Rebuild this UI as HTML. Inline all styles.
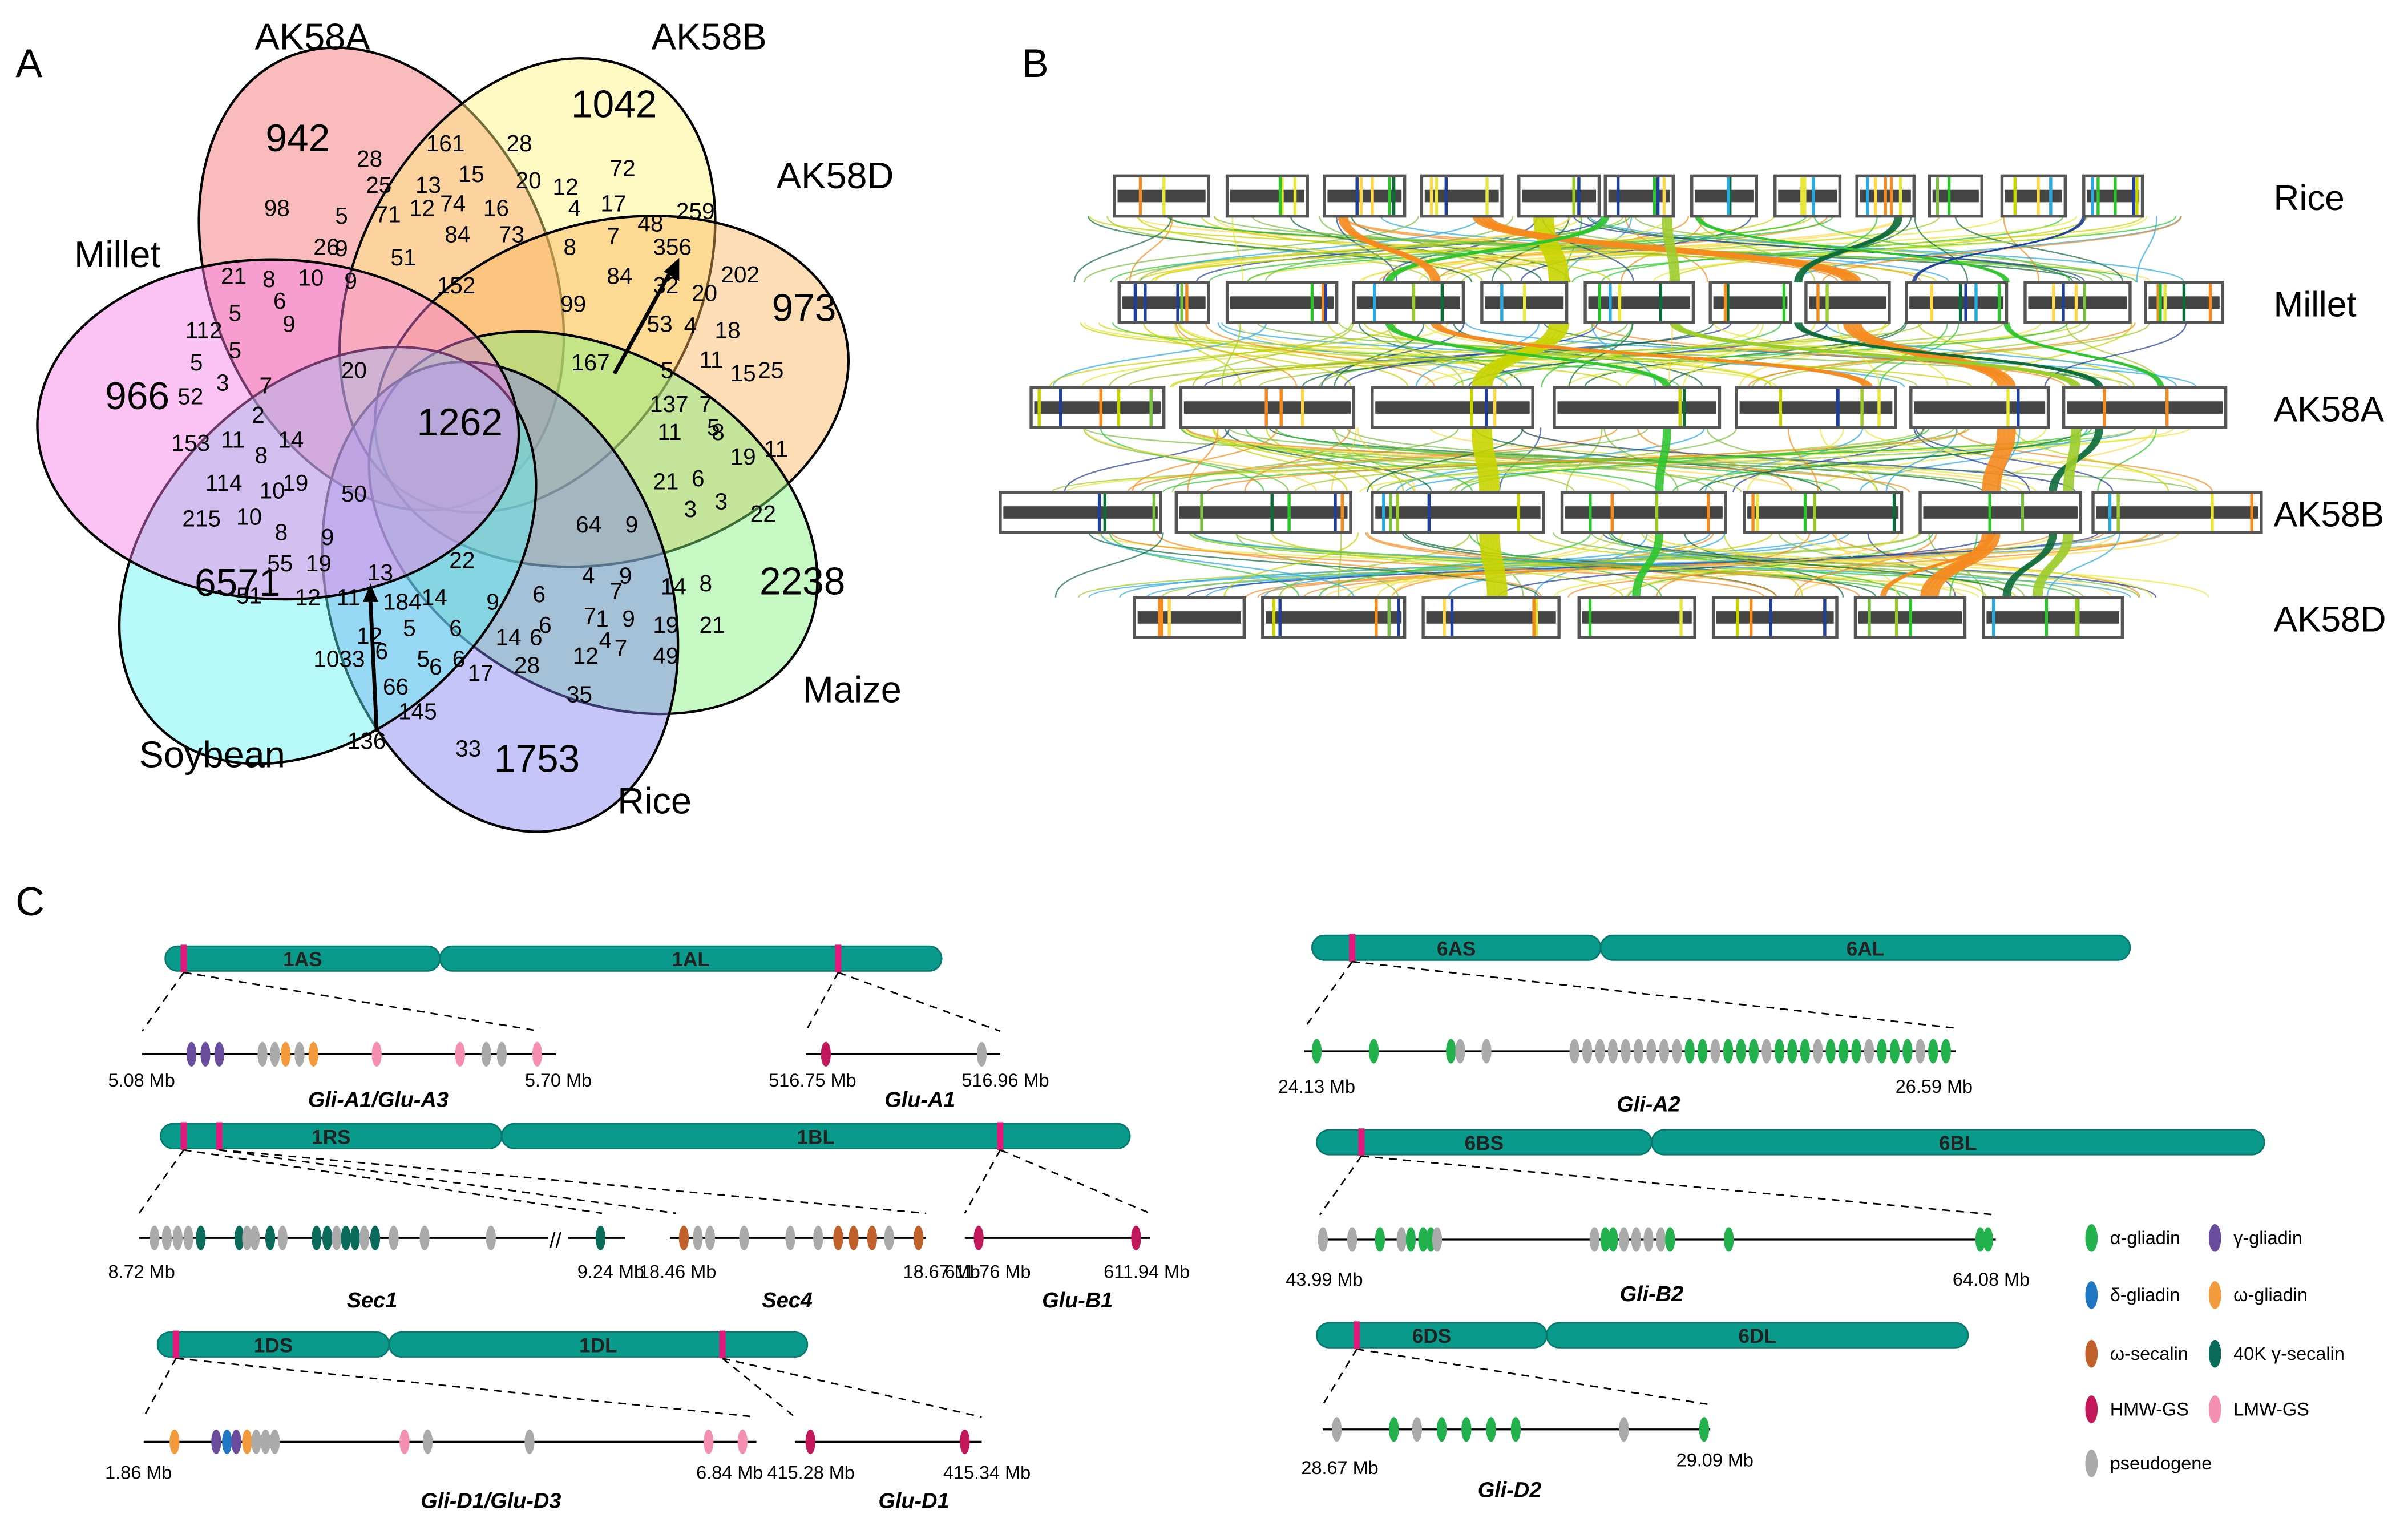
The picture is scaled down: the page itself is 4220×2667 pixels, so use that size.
<!DOCTYPE html>
<html><head><meta charset="utf-8"><style>
html,body{margin:0;padding:0;background:#fff}
svg{display:block}
text{font-family:"Liberation Sans",Arial,sans-serif}
</style></head><body>
<svg id="s" width="4220" height="2667" viewBox="0 0 1560 986" xmlns="http://www.w3.org/2000/svg">
<rect width="1560" height="986" fill="#fff"/>
<g id="venn"></g>
<g id="b"></g>
<g id="c"></g>
<text x="10" y="50" font-size="26">A</text>
<text x="662" y="50" font-size="26">B</text>
<text x="10" y="593" font-size="26">C</text>
</svg>
<script>
const NS="http://www.w3.org/2000/svg";
function el(p,t,a,txt){const e=document.createElementNS(NS,t);for(const k in a)e.setAttribute(k,a[k]);if(txt!==undefined)e.textContent=txt;document.getElementById(p).appendChild(e);return e;}
const vx=290,vy=282;
const petals=[
 [-113,"#f4696b","AK58A",165,32],
 [-62,"#fff27a","AK58B",422,32],
 [-15,"#fbb45c","AK58D",503,122],
 [31,"#7ef07a","Maize",520,455],
 [72,"#7f7ff2","Rice",400,527],
 [135,"#5ff0f0","Soybean",90,497],
 [182,"#f67ae6","Millet",48,173]
];
petals.forEach(p=>{const a=p[0]*Math.PI/180,d=110;const x=vx+d*Math.cos(a),y=vy+d*Math.sin(a);
 el("venn","ellipse",{cx:x,cy:y,rx:156,ry:110,transform:`rotate(${p[0]} ${x} ${y})`,fill:p[1],"fill-opacity":0.45,stroke:"#000","stroke-width":1.6});});
petals.forEach(p=>el("venn","text",{x:p[3],y:p[4],"font-size":24},p[2]));
const big=[[172,98,942],[370,76,1042],[500,208,973],[492,385,2238],[320,500,1753],[126,386,6571],[68,265,966],[270,282,1262]];
big.forEach(b=>el("venn","text",{x:b[0],y:b[1],"font-size":25},b[2]));
const sm=[[238,108,28],[283,98,161],[335,98,28],[402,114,72],[244,125,25],[276,125,13],[304,118,15],[341,122,20],[365,126,12],[396,137,17],[420,150,48],[445,142,259],[178,140,98],[224,145,5],[250,144,71],[272,140,12],[292,137,74],[320,140,16],[375,140,4],[400,158,7],[430,165,356],[210,165,26],[224,166,9],[260,172,51],[295,157,84],[330,157,73],[372,165,8],[400,184,84],[430,190,32],[455,195,20],[474,183,202],[150,184,21],[177,186,8],[200,185,10],[230,187,9],[290,190,152],[370,202,99],[426,215,53],[450,216,4],[470,219,18],[127,219,112],[190,215,9],[155,208,5],[184,200,6],[228,245,20],[377,240,167],[460,238,11],[480,247,15],[498,245,25],[130,240,5],[155,232,5],[175,255,7],[122,262,52],[147,253,3],[435,245,5],[460,267,7],[170,274,2],[428,267,137],[118,292,153],[150,290,11],[172,300,8],[187,290,14],[433,285,11],[465,282,5],[140,318,114],[175,323,10],[190,318,19],[228,325,50],[430,317,21],[455,315,6],[468,285,8],[480,301,19],[502,296,11],[125,341,215],[160,340,10],[185,350,8],[380,345,64],[412,345,9],[450,335,3],[470,330,3],[493,338,22],[180,370,55],[205,370,19],[215,353,9],[245,376,13],[298,368,22],[408,378,9],[435,385,14],[460,383,8],[160,391,51],[198,392,12],[225,392,11],[255,395,184],[280,392,14],[352,390,6],[384,378,4],[393,406,1],[410,406,9],[430,410,19],[238,417,12],[268,412,5],[298,412,6],[322,395,9],[356,410,6],[385,404,7],[402,388,7],[460,410,21],[210,432,1033],[250,427,6],[277,432,5],[300,432,6],[328,418,14],[350,418,6],[378,430,12],[395,420,4],[405,425,7],[430,430,49],[255,450,66],[265,466,145],[285,437,6],[310,441,17],[340,436,28],[374,455,35],[302,490,33],[232,485,136]];
sm.forEach(b=>el("venn","text",{x:b[0]-7,y:b[1],"font-size":15},b[2]));
el("venn","path",{d:"M244 474 L240 390",stroke:"#000","stroke-width":2.5,fill:"none"});
el("venn","path",{d:"M235 390 L240 378 L245 390Z",fill:"#000"});
el("venn","path",{d:"M398 242 L435 175",stroke:"#000","stroke-width":2.5,fill:"none"});
el("venn","path",{d:"M430 176 L440 167 L440 182Z",fill:"#000"});
function rnd(s){return function(){s=(s*9301+49297)%233280;return s/233280;};}
const r=rnd(7);
const rows=[[127,"Rice",[[722,783],[795,847],[858,910],[921,973],[984,1036],[1040,1084],[1096,1138],[1150,1192],[1203,1240],[1250,1284],[1297,1338],[1350,1388]]],
[196,"Millet",[[725,783],[795,866],[877,948],[960,1015],[1027,1097],[1108,1160],[1170,1224],[1235,1300],[1312,1380],[1390,1440]]],
[264,"AK58A",[[668,754],[765,877],[889,993],[1007,1114],[1125,1228],[1238,1327],[1337,1442]]],
[332,"AK58B",[[648,752],[762,875],[889,1000],[1012,1118],[1130,1232],[1244,1348],[1356,1465]]],
[400,"AK58D",[[735,806],[818,910],[922,1010],[1023,1098],[1110,1190],[1202,1273],[1285,1375]]]];
const cols=["#e8e83a","#f58a1e","#2fc42f","#9ccc2a","#c8d400","#0d6b3a","#7ac143","#1f3f99","#29a9e0","#ffd84a"];
function link(x1,y1,x2,y2,c,w,o){el("b","path",{d:`M${x1} ${y1+13} C${x1} ${(y1+y2)/2} ${x2} ${(y1+y2)/2} ${x2} ${y2-13}`,stroke:c,"stroke-width":w,fill:"none","stroke-opacity":o});}
for(let i=0;i<4;i++){const y1=rows[i][0],y2=rows[i+1][0];for(let k=0;k<70;k++){const x1=700+r()*720,x2=680+r()*760;link(x1,y1,x2,y2,cols[Math.floor(r()*cols.length)],0.9,0.7);}}
const bund=[[["#c8d400",10],[1000,127],[1010,196],[960,264],[965,332],[970,400]],
[["#f58a1e",9],[960,127],[1200,196],[1300,264],[1290,332],[1250,400]],
[["#0d6b3a",4],[1230,127],[1165,196],[1360,264],[1330,332],[1300,400]],
[["#2fc42f",4],[1040,127],[900,196],[1080,264],[1075,332],[1060,400]],
[["#9ccc2a",5],[1080,127],[1085,196],[1345,264],[1340,332],[1320,400]],
[["#f58a1e",5],[870,127],[930,196],[1210,264]],
[["#2fc42f",3],[1100,127],[1300,196],[1400,264]],
[["#1f3f99",2],[1350,127],[1240,196]],
[["#f58a1e",3],[1290,332],[1220,400]]];
bund.forEach(b=>{for(let i=1;i<b.length-1;i++){for(let k=0;k<4;k++){const d=(k-1.5)*b[0][1]/3;link(b[i][0]+d,b[i][1],b[i+1][0]+d,b[i+1][1],b[0][0],b[0][1]/3,0.9);}}});
rows.forEach(rw=>{const y=rw[0];rw[2].forEach(bx=>{el("b","rect",{x:bx[0],y:y-13,width:bx[1]-bx[0],height:26,fill:"#fff",stroke:"#555","stroke-width":2});el("b","rect",{x:bx[0]+2,y:y-4,width:bx[1]-bx[0]-4,height:8,fill:"#444"});
 const n=2+Math.floor(r()*4);for(let k=0;k<n;k++){const x=bx[0]+4+r()*(bx[1]-bx[0]-8);el("b","rect",{x:x,y:y-12,width:2,height:24,fill:cols[Math.floor(r()*cols.length)]});}});
 el("b","text",{x:1473,y:y+9,"font-size":23},rw[1]);});
const C={a:"#22b14c",g:"#6a4c9c",d:"#1f77c4",w:"#f39a3c",s:"#c0602a",k:"#0a6b5a",h:"#c2185b",l:"#f48fb1",p:"#aaaaaa"};
function chrom(x1,xm,x2,y,ls,ll){el("c","rect",{x:x1,y:y-8,width:xm-x1,height:16,rx:8,fill:"#0a9a8c",stroke:"#07796d"});el("c","rect",{x:xm,y:y-8,width:x2-xm,height:16,rx:8,fill:"#0a9a8c",stroke:"#07796d"});
 el("c","text",{x:(x1+xm)/2,y:y+5,"font-size":13,"font-weight":"bold","text-anchor":"middle",fill:"#222"},ls);el("c","text",{x:(xm+x2)/2,y:y+5,"font-size":13,"font-weight":"bold","text-anchor":"middle",fill:"#222"},ll);}
function mk(x,y){el("c","rect",{x:x-2,y:y-9,width:4,height:18,fill:"#e6177a"});}
function dash(x1,y1,x2,y2){el("c","line",{x1,y1,x2,y2,stroke:"#000","stroke-dasharray":"5,4","stroke-width":1});}
function line(x1,x2,y){el("c","line",{x1,y1:y,x2,y2:y,stroke:"#000","stroke-width":1.2});}
function genes(y,list){list.forEach(g=>el("c","ellipse",{cx:g[0],cy:y,rx:3.2,ry:8,fill:C[g[1]]}));}
function t(x,y,s,o){el("c","text",Object.assign({x,y,"font-size":12},o||{}),s);}
function lab(x,y,s){el("c","text",{x,y,"font-size":14,"font-weight":"bold","font-style":"italic","text-anchor":"middle"},s);}
chrom(107,285,610,621,"1AS","1AL");mk(119,621);mk(543,621);
dash(119,630,92,668);dash(119,630,350,668);line(92,360,683);
genes(683,[[124,"g"],[133,"g"],[142,"g"],[170,"p"],[178,"p"],[185,"w"],[194,"p"],[203,"w"],[244,"l"],[298,"l"],[315,"p"],[325,"p"],[348,"l"]]);
t(70,704,"5.08 Mb");t(340,704,"5.70 Mb");lab(245,717,"Gli-A1/Glu-A3");
dash(543,630,522,668);dash(543,630,648,668);line(522,648,683);genes(683,[[535,"h"],[636,"p"]]);
t(498,704,"516.75 Mb");t(623,704,"516.96 Mb");lab(596,717,"Glu-A1");
chrom(104,325,732,736,"1RS","1BL");mk(119,736);mk(142,736);mk(648,736);
dash(119,745,90,786);dash(119,745,390,786);dash(142,745,438,786);dash(142,745,600,786);
line(90,355,802);line(368,405,802);line(434,600,802);el("c","text",{x:356,y:808,"font-size":14},"//");
genes(802,[[108,"p"],[115,"p"],[122,"p"],[130,"k"],[155,"k"],[165,"p"],[175,"k"],[205,"k"],[212,"k"],[218,"p"],[224,"k"],[230,"k"],[236,"p"],[243,"k"],[255,"p"],[275,"p"],[318,"p"],[389,"k"],[443,"s"],[452,"p"],[460,"p"],[482,"p"],[512,"p"],[530,"p"],[543,"s"],[553,"s"],[565,"s"],[576,"p"],[595,"s"]]);
genes(802,[[100,"p"],[160,"p"],[183,"p"]]);
t(70,828,"8.72 Mb");t(374,828,"9.24 Mb");t(414,828,"18.46 Mb");t(585,828,"18.67 Mb");
lab(241,847,"Sec1");lab(510,847,"Sec4");
dash(648,745,625,786);dash(648,745,745,786);line(625,745,802);genes(802,[[634,"h"],[736,"h"]]);
t(612,828,"611.76 Mb");t(715,828,"611.94 Mb");lab(698,847,"Glu-B1");
chrom(102,252,523,871,"1DS","1DL");mk(114,871);mk(468,871);
dash(114,880,93,918);dash(114,880,490,918);line(93,490,934);
genes(934,[[113,"w"],[140,"g"],[147,"d"],[153,"g"],[160,"w"],[166,"p"],[172,"p"],[178,"p"],[262,"l"],[277,"p"],[343,"p"],[459,"l"],[481,"l"]]);
t(68,958,"1.86 Mb");t(451,958,"6.84 Mb");lab(318,977,"Gli-D1/Glu-D3");
dash(468,880,515,918);dash(468,880,636,918);line(515,636,934);genes(934,[[525,"h"],[625,"h"]]);
t(497,958,"415.28 Mb");t(611,958,"415.34 Mb");lab(592,977,"Glu-D1");
chrom(850,1037,1380,614,"6AS","6AL");mk(876,614);
dash(876,623,845,666);dash(876,623,1267,666);line(845,1267,681);
const a6=[[853,"a"],[890,"a"],[940,"a"],[946,"p"],[963,"p"]];for(let x=1020;x<1262;x+=8.3){a6.push([x,x<1090?"p":"a"]);}
a6.forEach((g,i)=>{if(g[0]>1090&&i%4==0)g[1]="p";});genes(681,a6);
t(828,708,"24.13 Mb");t(1228,708,"26.59 Mb");lab(1068,720,"Gli-A2");
chrom(853,1070,1467,740,"6BS","6BL");mk(882,740);
dash(882,749,855,787);dash(882,749,1293,787);line(855,1293,803);
genes(803,[[857,"p"],[876,"p"],[894,"a"],[908,"p"],[914,"a"],[922,"a"],[927,"a"],[931,"p"],[1033,"p"],[1040,"a"],[1045,"a"],[1052,"p"],[1060,"p"],[1068,"p"],[1076,"p"],[1082,"a"],[1120,"a"],[1283,"a"],[1288,"a"]]);
t(833,833,"43.99 Mb");t(1265,833,"64.08 Mb");lab(1070,843,"Gli-B2");
chrom(853,1002,1275,865,"6DS","6DL");mk(879,865);
dash(879,874,857,910);dash(879,874,1108,910);line(857,1108,926);
genes(926,[[866,"p"],[903,"a"],[918,"p"],[934,"a"],[950,"a"],[966,"a"],[982,"a"],[1052,"p"],[1104,"a"]]);
t(843,955,"28.67 Mb");t(1086,950,"29.09 Mb");lab(978,970,"Gli-D2");
const lg=[[1355,802,"a","α-gliadin"],[1435,802,"g","γ-gliadin"],[1355,839,"d","δ-gliadin"],[1435,839,"w","ω-gliadin"],[1355,877,"s","ω-secalin"],[1435,877,"k","40K γ-secalin"],[1355,913,"h","HMW-GS"],[1435,913,"l","LMW-GS"],[1355,948,"p","pseudogene"]];
lg.forEach(l=>{el("c","ellipse",{cx:l[0],cy:l[1],rx:4,ry:9,fill:C[l[2]]});t(l[0]+12,l[1]+4,l[3]);});
</script>
</body></html>
